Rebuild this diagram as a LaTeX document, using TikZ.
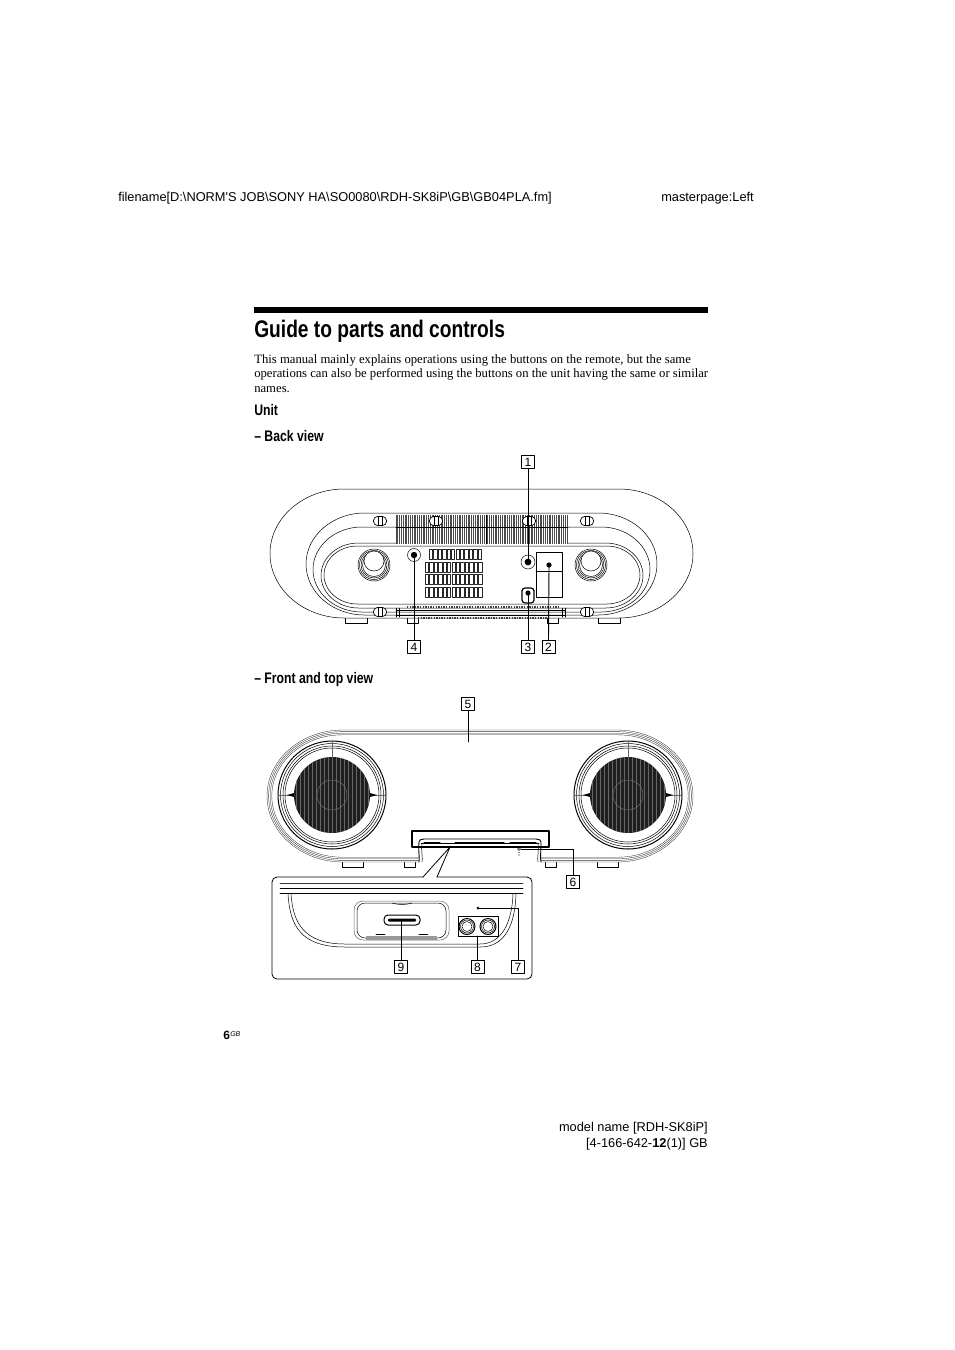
\documentclass[tikz,border=0pt]{standalone}
\usepackage{fontspec}
\setmainfont{Liberation Serif}
\newfontfamily\armfont{Liberation Sans}
\newfontfamily\headfont[FakeStretch=0.8]{Liberation Sans}
\newcommand{\bodypath}[5]{
	\pgfmathsetmacro{\rr}{(#5-(#3))/2}
	\pgfmathsetmacro{\kk}{1.15*\rr}
	\draw[#1] (#2,{#3+\rr}) .. controls (#2,{#3+0.45*\rr}) and ({#2+0.45*\kk},#3) .. ({#2+\kk},#3) -- ({#4-\kk},#3)
	.. controls ({#4-0.45*\kk},#3) and (#4,{#3+0.45*\rr}) .. (#4,{#3+\rr})
	.. controls (#4,{#5-0.45*\rr}) and ({#4-0.45*\kk},#5) .. ({#4-\kk},#5) -- ({#2+\kk},#5)
	.. controls ({#2+0.45*\kk},#5) and (#2,{#5-0.45*\rr}) .. cycle;
}
\begin{document}
\begin{tikzpicture}[x=1pt, y=-1pt, line cap=round, line join=round, line width=0.5pt, >=stealth]
	\tikzset{numbox/.style={draw, line width=0.5pt, fill=white, minimum size=13pt, inner sep=0pt, font=\armfont\fontsize{12}{12}\selectfont},
		leader/.style={line width=0.9pt},
		pagetext/.style={anchor=base west, inner sep=0pt, font=\armfont\fontsize{12.8}{14}\selectfont},
		bodytext/.style={anchor=base west, inner sep=0pt, font=\fontsize{12.7}{14}\selectfont},
		headtext/.style={anchor=base west, inner sep=0pt, font=\headfont\bfseries\fontsize{15.3}{16}\selectfont},
		slot/.style={draw, black!85, line width=0.4pt, fill=white}}
	\useasboundingbox (0,0) rectangle (954,1350);
	\fill[white] (0,0) rectangle (954,1350);
	\node[pagetext] (filename) at (118,201) {filename[D:\textbackslash NORM'S JOB\textbackslash SONY HA\textbackslash SO0080\textbackslash RDH-SK8iP\textbackslash GB\textbackslash GB04PLA.fm]};
	\node[pagetext] (master) at (661,201) {masterpage:Left};
	\fill (254,307) rectangle (708,313);
	\node[anchor=base west, inner sep=0pt, font=\headfont\bfseries\fontsize{24}{28}\selectfont] (title) at (254,337) {Guide to parts and controls};
	\node[bodytext] (para1) at (254,363) {This manual mainly explains operations using the buttons on the remote, but the same};
	\node[bodytext] (para2) at (254,377) {operations can also be performed using the buttons on the unit having the same or similar};
	\node[bodytext] (para3) at (254,392) {names.};
	\node[headtext] (unit) at (254,415) {Unit};
	\node[headtext] (back) at (254,441) {– Back view};
	\node[headtext] (front) at (254,683) {– Front and top view};

	\foreach \x in {345,598} \draw (\x,618) -- (\x,623) -- (\x+22,623) -- (\x+22,618);
	\foreach \x in {407,547} \draw (\x,618) -- (\x,623) -- (\x+11,623) -- (\x+11,618);
	\bodypath{fill=white}{270}{489}{693}{618}
	\bodypath{}{306}{513}{657}{615}
	\bodypath{}{313}{527}{650}{612}
	\bodypath{}{321}{543}{643}{608}
	\bodypath{}{324}{546}{640}{604}
	\fill[white] (396,515) rectangle (568,544);
	\foreach \x in {396,397.8,...,568} \draw[black!70, line width=0.8pt, line cap=butt] (\x,515) -- (\x,544);
	\draw[line width=0.6pt] (396,527) -- (568,527) (486,515) -- (486,544);
	\foreach \x/\y in {380/521,436/521,529/521,587/521,380/612,587/612} {
		\draw[fill=white, rounded corners=4pt, line width=0.7pt] (\x-6.5,\y-4.5) rectangle (\x+6.5,\y+4.5);
		\draw (\x-2,\y-4.5) -- (\x-2,\y+4.5) (\x+2,\y-4.5) -- (\x+2,\y+4.5);
	}
	\foreach \x in {374,591} {
		\draw (\x,565) circle (16) (\x,565) circle (14.5) (\x,565) circle (13) (\x,565) circle (11.5);
		\draw[fill=white] (\x,561) circle (10);
	}
	\foreach \x in {0,...,11} \draw[slot] (429+\x*4.45,549) rectangle ++(3.4,10);
	\foreach \y in {562,574,587} \foreach \x in {0,...,12} \draw[slot] (425+\x*4.45,\y) rectangle ++(3.4,10);
	\draw[fill=white] (536,552) rectangle (562,597) (536,571) -- (562,571);
	\draw[black!75, line width=2.2pt, line cap=butt, dash pattern=on 1.4pt off 1.2pt] (407,607) -- (558,607) (418,618) -- (547,618);
	\draw (396,610) -- (565,610) (396,615) -- (565,615);
	\draw (396,608) -- (396,617) (399,608) -- (399,617) (562,608) -- (562,617) (565,608) -- (565,617);
	\draw (414,555) circle (6.5) (528,562) circle (7);
	\fill (414,555) circle (3.2) (528,562) circle (3.4) (549,565) circle (2.6);
	\draw[line width=1.2pt, fill=white, rounded corners=3pt] (522,588) rectangle (534,603);
	\fill (528,593) circle (2.6);
	\coordinate (jackA) at (528,562);
	\coordinate (jackB) at (549,565);
	\coordinate (jackC) at (528,593);
	\coordinate (jackD) at (414,555);
	\node[numbox] (lblA) at (528,462) {1};
	\node[numbox] (lblB) at (548.5,647) {2};
	\node[numbox] (lblC) at (528,647) {3};
	\node[numbox] (lblD) at (414,647) {4};
	\draw[leader] (lblA) -- (jackA);
	\draw[leader] (lblB.north) -- (jackB);
	\draw[leader] (lblC) -- (jackC);
	\draw[leader] (lblD) -- (jackD);

	\foreach \x in {342,597} \draw (\x,861) rectangle (\x+21,867);
	\foreach \x in {404,545} \draw (\x,861) rectangle (\x+11,867);
	\foreach \d in {0,1.6,3.2,4.8} \bodypath{black!80, line width=0.35pt, fill=white}{267+\d}{730+\d}{693-\d}{862-\d}
	\foreach \x in {332,628} {
		\draw[line width=1pt] (\x,795) circle (54);
		\draw (\x,795) circle (51.5) (\x,795) circle (49) (\x,795) circle (47);
		\begin{scope}
			\clip (\x,795) circle (38);
			\fill[black!88] (\x-38,757) rectangle (\x+38,833);
			\foreach \k in {-36,-32,...,36} \draw[black!60, line width=0.7pt] (\x+\k,757) -- (\x+\k,833);
			\draw[black!55] (\x,795) circle (15);
		\end{scope}
		\draw[black!60] (\x,741) -- (\x,757) (\x-54,795) -- (\x-38,795) (\x+38,795) -- (\x+54,795);
		\fill (\x-45,795) -- (\x-38,793) -- (\x-38,797) -- cycle (\x+45,795) -- (\x+38,793) -- (\x+38,797) -- cycle;
	}
	\fill[white] (419,839) rectangle (541,864);
	\draw[line width=0.9pt] (419,862) .. controls (420,858) and (418,852) .. (419,842) .. controls (419,840) and (421,839) .. (424,839)
	-- (536,839) .. controls (539,839) and (541,840) .. (541,842) .. controls (541,852) and (540,858) .. (541,862);
	\draw (422,862) .. controls (423,858) and (421,852) .. (422,843) (538,862) .. controls (537,858) and (539,852) .. (538,843);
	\draw (421,843) -- (539,843);
	\draw[line width=1pt] (424,842) -- (440,842) (455,842) -- (504,842) (510,842) -- (536,842);
	\draw (519,849) circle (1.5);
	\fill (519,855) circle (0.7) (519,852.5) circle (0.7);
	\draw[line width=1.4pt] (412,831) rectangle (549,847);
	\coordinate (topbar) at (468,742);
	\coordinate (micdot) at (521,849);
	\coordinate (zoomtip) at (450,847);
	\node[numbox] (lblE) at (468,704) {5};
	\node[numbox] (lblF) at (573,882) {6};
	\draw[leader] (lblE) -- (topbar);
	\draw (micdot) -| (lblF);

	\draw[line width=0.8pt, fill=white, rounded corners=5pt] (423,877) -- (272,877) -- (272,979) -- (532,979) -- (532,877) -- (437,877);
	\draw[line width=0.8pt] (423,877) -- (zoomtip) -- (437,877);
	\draw[black!80, line width=0.8pt] (280,883) -- (523,883);
	\draw (280,888) -- (523,888);
	\draw[line width=0.8pt] (280,893) -- (523,893);
	\draw (288,894) .. controls (290,925) and (300,947) .. (345,947) -- (480,947) .. controls (505,947) and (515,925) .. (516,894);
	\draw (291,894) .. controls (293,922) and (303,944) .. (345,944) -- (480,944) .. controls (502,944) and (512,922) .. (513,894);
	\draw[black!60, rounded corners=9pt] (354,901) rectangle (449,940);
	\draw[rounded corners=8pt] (357,903) rectangle (446,938);
	\fill[black!40] (366,936) rectangle (437,940);
	\draw[line width=0.9pt] (376,934) -- (385,934) (419,934) -- (428,934);
	\draw (392,903) .. controls (398,905) and (406,905) .. (412,903);
	\draw[line width=1pt, rounded corners=4pt] (384,915) rectangle (420,925);
	\fill[rounded corners=1pt] (388,918.5) rectangle (416,921.5);
	\draw[line width=1pt, fill=white] (458,916) rectangle (498,936);
	\foreach \x in {467,488} {
		\draw[line width=1pt] (\x,926.5) circle (8);
		\draw (\x,926.5) circle (6.5) (\x,926.5) circle (5);
	}
	\fill (478,908) circle (1.5);
	\coordinate (ledpt) at (478,908);
	\coordinate (dockpt) at (401,921);
	\coordinate (jackpt) at (477.5,936);
	\node[numbox] (lblG) at (518,967) {7};
	\node[numbox] (lblH) at (477.5,967) {8};
	\node[numbox] (lblI) at (401,967) {9};
	\draw[leader] (ledpt) -| (lblG);
	\draw[leader] (lblH) -- (jackpt);
	\draw[leader] (lblI) -- (dockpt);

	\node[anchor=base west, inner sep=0pt, font=\armfont\bfseries\fontsize{12}{14}\selectfont] (pagenum) at (223,1039) {6};
	\node[anchor=base west, inner sep=0pt, font=\armfont\itshape\fontsize{7}{8}\selectfont] (pagegb) at (230,1036) {GB};
	\node[pagetext, anchor=base east] (model) at (708,1131) {model name [RDH-SK8iP]};
	\node[pagetext, anchor=base east] (partno) at (708,1147) {[4-166-642-\textbf{12}(1)] GB};
\end{tikzpicture}
\end{document}
